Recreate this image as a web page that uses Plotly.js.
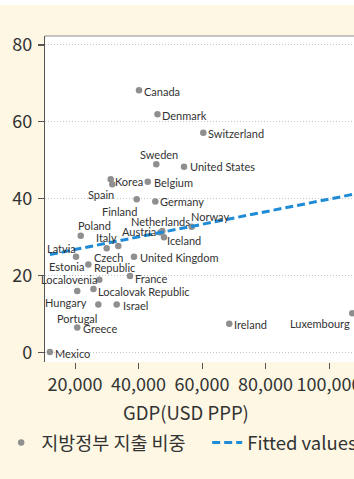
<!DOCTYPE html>
<html>
<head>
<meta charset="utf-8">
<script src="https://cdn.plot.ly/plotly-3.0.1.min.js"></script>
<style>
  html, body { margin: 0; padding: 0; background: #ffffff; overflow: hidden; width: 354px; height: 479px; }
  #chart { position: absolute; left: 0; top: 5px; width: 380px; height: 474px; }
</style>
</head>
<body>
<div id="chart"></div>
<script>
// Countries, GDP per capita (USD PPP) and local government share of total spending (%)
const countries = [
  "Mexico", "Greece", "Hungary", "Localovak Republic", "Localovenia", "Portugal",
  "Israel", "France", "Latvia", "Estonia", "Poland", "Italy", "Czech<br>Republic",
  "United Kingdom", "Korea", "Spain", "Belgium", "Finland", "Germany", "Sweden",
  "United States", "Canada", "Denmark", "Switzerland", "Norway", "Netherlands",
  "Austria", "Iceland", "Ireland", "Luxembourg"
];
const gdp = [
  12100, 20700, 20700, 25800, 27650, 27350,
  33130, 37320, 20320, 24200, 21800, 29980, 33640,
  38580, 31240, 31750, 42900, 39430, 45290, 45600,
  54330, 40160, 45980, 60410, 56760, 47500,
  46930, 48030, 68600, 107340
];
const localShare = [
  0.1, 6.5, 16.0, 16.5, 18.9, 12.5,
  12.5, 19.9, 24.9, 22.9, 30.4, 27.1, 27.7,
  24.9, 45.1, 43.8, 44.4, 39.9, 39.3, 49.0,
  48.3, 68.2, 62.0, 57.2, 32.7, 31.6,
  31.2, 30.0, 7.5, 10.2
];

// Fitted line endpoints (linear fit over the GDP span)
const fitGdp = [12100, 107340];
const fitShare = [25.5, 41.1];

// Tick values
const xTicks = [20000, 40000, 60000, 80000, 100000];
const yTicks = [0, 20, 40, 60, 80];

// Axis title and series names shown in the legend
const xTitle = "GDP(USD PPP)";
const seriesName = "지방정부 지출 비중";
const fitName = "Fitted values";

// Label placement per point: [xanchor, dx px, dy px (down)]
const labelPlacement = [
  ["left", 4, 1], ["left", 5, 1], ["right", 11, 11.7], ["left", 3.5, 2], ["right", -1.5, 0], ["right", 0, 14],
  ["left", 5, 1], ["left", 4.5, 2], ["right", 1, -8.7], ["right", -3, 2.4], ["left", -4, -10], ["center", 0, -10.5], ["left", -25.3, 11],
  ["left", 5, 1], ["left", 3.5, 2], ["right", 3, 10], ["left", 5, 1], ["right", 1.5, 12.4], ["left", 4, 0.5], ["center", 2.5, -10],
  ["left", 5, 0], ["left", 4, 1.4], ["left", 4, 1.7], ["left", 4, 0.6], ["left", -2, -10], ["center", -2, -9.5],
  ["right", -4, -1], ["left", 2, 3.5], ["left", 4, 1], ["right", -1, 10]
];

const labelFont = { family: "Lato, sans-serif", size: 11, color: "#333333" };
const lineStep = 10.7;

const annotations = [];
countries.forEach((name, i) => {
  const [xa, dx, dy] = labelPlacement[i];
  name.split("<br>").forEach((line, k) => {
    annotations.push({
      x: gdp[i], y: localShare[i], xref: "x", yref: "y",
      text: line, showarrow: false,
      xanchor: xa, yanchor: "middle",
      xshift: dx, yshift: -(dy + k * lineStep),
      borderpad: 0, font: labelFont
    });
  });
});

// X axis title, set a little left of the plot centre
annotations.push({
  x: 0.4406, y: -0.1525, xref: "paper", yref: "paper",
  text: xTitle, showarrow: false, xanchor: "center", yanchor: "middle",
  font: { family: "Noto Sans CJK KR, sans-serif", size: 18.5, color: "#333333" }
});

// Non-breaking spaces widen the first legend entry so the second one sits further right
const legendPad = "\u00a0".repeat(4);

const traces = [
  {
    x: gdp, y: localShare, type: "scatter", mode: "markers",
    name: seriesName + legendPad,
    marker: { color: "#8f8f8f", size: 6.5 },
    hoverinfo: "skip"
  },
  {
    x: fitGdp, y: fitShare, type: "scatter", mode: "lines",
    name: fitName,
    line: { color: "#1e8bd6", width: 3, dash: "8px,4px" },
    hoverinfo: "skip"
  }
];

const tickFont = { family: "Noto Sans CJK KR, sans-serif", size: 18, color: "#333333" };

const layout = {
  width: 380, height: 474,
  margin: { l: 45, r: 15, t: 31, b: 117, autoexpand: false },
  paper_bgcolor: "#fdf7e4",
  plot_bgcolor: "#ffffff",
  showlegend: true,
  xaxis: {
    range: [10550, 111340],
    tickvals: xTicks, tickformat: ",d",
    ticks: "outside", ticklen: 6, tickcolor: "#555555", tickwidth: 1,
    showline: false, showgrid: false, zeroline: false, automargin: false,
    tickfont: tickFont
  },
  yaxis: {
    range: [-2.47, 82.34],
    tickvals: yTicks,
    ticks: "outside", ticklen: 6, tickcolor: "#555555", tickwidth: 1.2,
    ticklabelstandoff: 2,
    showline: true, linecolor: "#555555", linewidth: 1.2,
    showgrid: true, gridcolor: "#c4c4c4", gridwidth: 1, griddash: "1px,2px",
    zeroline: false, automargin: false,
    tickfont: tickFont
  },
  legend: {
    orientation: "h", xref: "paper", yref: "paper",
    x: -0.137, xanchor: "left", y: -0.2485, yanchor: "middle",
    bgcolor: "rgba(0,0,0,0)",
    font: { family: "Noto Sans CJK KR, sans-serif", size: 18.5, color: "#333333" }
  },
  shapes: [
    { type: "line", xref: "paper", yref: "paper", x0: 0, x1: 1, y0: 1, y1: 1, line: { color: "#8a8a8a", width: 1 } }
  ],
  annotations: annotations
};

Plotly.newPlot("chart", traces, layout, { displayModeBar: false, staticPlot: true });
</script>
</body>
</html>
